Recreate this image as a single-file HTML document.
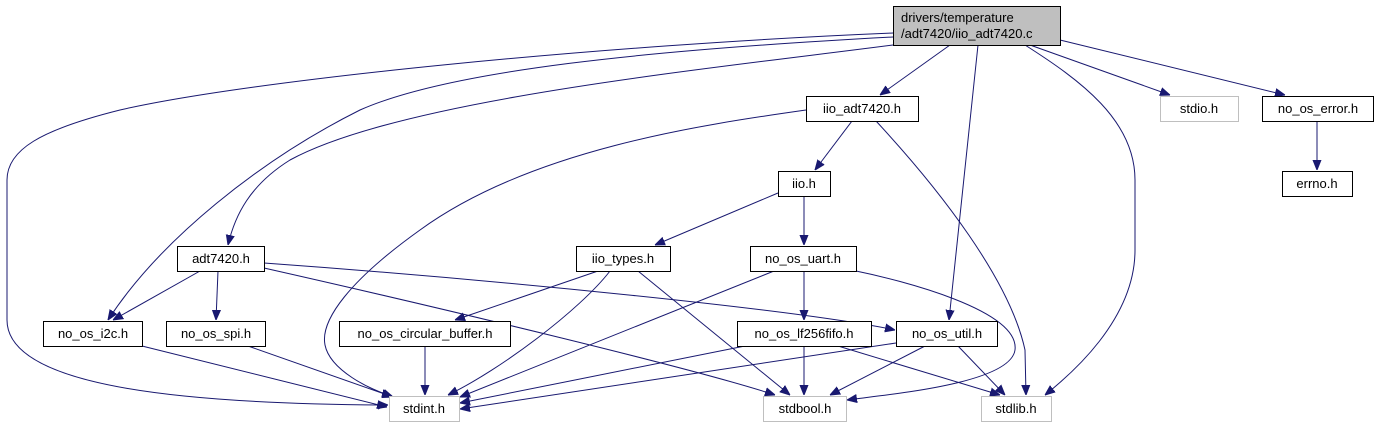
<!DOCTYPE html>
<html><head><meta charset="utf-8"><style>
body{margin:0;background:#fff;width:1377px;height:425px;overflow:hidden}
svg text{font-family:"Liberation Sans","DejaVu Sans",sans-serif;font-size:13px;fill:#000}
.b{fill:#fff;stroke:#000;stroke-width:1}
.g{fill:#fff;stroke:#bfbfbf;stroke-width:1}
.e{fill:none;stroke:#191970;stroke-width:1}
</style></head><body>
<svg width="1377" height="425" viewBox="0 0 1377 425" xmlns="http://www.w3.org/2000/svg">
<defs><marker id="a" viewBox="0 0 10 10" refX="10" refY="5" markerWidth="10" markerHeight="10" markerUnits="userSpaceOnUse" orient="auto"><path d="M0,1 L10,5 L0,9 z" fill="#191970" stroke="#191970"/></marker></defs>
<g marker-end="url(#a)">
<path class="e" d="M893,33 C600,45 250,80 120,110 C40,130 7,150 7,180 L7,320 C7,390 200,404 388,405"/>
<path class="e" d="M893,37 C650,50 450,70 360,110 C260,160 160,240 108,320"/>
<path class="e" d="M893,45 C700,70 400,100 290,160 C250,185 235,215 228,245"/>
<path class="e" d="M950,45 L880,95"/>
<path class="e" d="M978,45 L949,320"/>
<path class="e" d="M1025,45 C1080,80 1135,120 1135,180 L1135,250 C1135,320 1070,375 1045,395"/>
<path class="e" d="M1030,45 L1170,95"/>
<path class="e" d="M1060,40 L1285,95"/>
<path class="e" d="M1317,121 L1317,170"/>
<path class="e" d="M806,110 C700,125 530,150 420,230 C350,280 320,320 325,345 C330,370 370,390 392,396"/>
<path class="e" d="M876,121 C940,190 1010,280 1025,350 L1026,395"/>
<path class="e" d="M852,121 L815,170"/>
<path class="e" d="M778,193 L655,245"/>
<path class="e" d="M804,196 L804,245"/>
<path class="e" d="M598,271 L455,320"/>
<path class="e" d="M610,271 C580,310 500,370 448,395"/>
<path class="e" d="M638,271 L790,395"/>
<path class="e" d="M774,271 L460,397"/>
<path class="e" d="M804,271 L804,320"/>
<path class="e" d="M856,271 C900,280 1020,310 1015,350 C1010,385 880,395 847,400"/>
<path class="e" d="M200,271 L113,320"/>
<path class="e" d="M218,271 L216,320"/>
<path class="e" d="M264,263 C500,280 800,310 895,330"/>
<path class="e" d="M264,268 C450,310 700,370 775,395"/>
<path class="e" d="M142,346 L387,407"/>
<path class="e" d="M248,346 L393,397"/>
<path class="e" d="M425,346 L425,395"/>
<path class="e" d="M745,346 L460,403"/>
<path class="e" d="M804,346 L804,395"/>
<path class="e" d="M838,346 L1000,395"/>
<path class="e" d="M896,343 L460,409"/>
<path class="e" d="M925,346 L830,395"/>
<path class="e" d="M958,346 L1005,395"/>
</g>
<rect x="893.5" y="6.5" width="167" height="39" fill="#bfbfbf" stroke="#000"/>
<text x="901" y="22">drivers/temperature</text><text x="901" y="38">/adt7420/iio_adt7420.c</text>
<rect class="b" x="806.5" y="96.5" width="112" height="25"/><text x="862" y="113" text-anchor="middle">iio_adt7420.h</text>
<rect class="g" x="1160.5" y="96.5" width="78" height="25"/><text x="1199" y="113" text-anchor="middle">stdio.h</text>
<rect class="b" x="1262.5" y="96.5" width="111" height="25"/><text x="1318" y="113" text-anchor="middle">no_os_error.h</text>
<rect class="b" x="1282.5" y="171.5" width="70" height="25"/><text x="1317" y="188" text-anchor="middle">errno.h</text>
<rect class="b" x="778.5" y="171.5" width="52" height="25"/><text x="804" y="188" text-anchor="middle">iio.h</text>
<rect class="b" x="576.5" y="246.5" width="94" height="25"/><text x="623" y="263" text-anchor="middle">iio_types.h</text>
<rect class="b" x="750.5" y="246.5" width="106" height="25"/><text x="803" y="263" text-anchor="middle">no_os_uart.h</text>
<rect class="b" x="177.5" y="246.5" width="87" height="25"/><text x="221" y="263" text-anchor="middle">adt7420.h</text>
<rect class="b" x="43.5" y="321.5" width="99" height="25"/><text x="93" y="338" text-anchor="middle">no_os_i2c.h</text>
<rect class="b" x="166.5" y="321.5" width="99" height="25"/><text x="216" y="338" text-anchor="middle">no_os_spi.h</text>
<rect class="b" x="339.5" y="321.5" width="171" height="25"/><text x="425" y="338" text-anchor="middle">no_os_circular_buffer.h</text>
<rect class="b" x="737.5" y="321.5" width="134" height="25"/><text x="804" y="338" text-anchor="middle">no_os_lf256fifo.h</text>
<rect class="b" x="896.5" y="321.5" width="101" height="25"/><text x="947" y="338" text-anchor="middle">no_os_util.h</text>
<rect class="g" x="389.5" y="396.5" width="70" height="25"/><text x="424" y="413" text-anchor="middle">stdint.h</text>
<rect class="g" x="763.5" y="396.5" width="83" height="25"/><text x="805" y="413" text-anchor="middle">stdbool.h</text>
<rect class="g" x="981.5" y="396.5" width="70" height="25"/><text x="1016" y="413" text-anchor="middle">stdlib.h</text>
</svg>
</body></html>
